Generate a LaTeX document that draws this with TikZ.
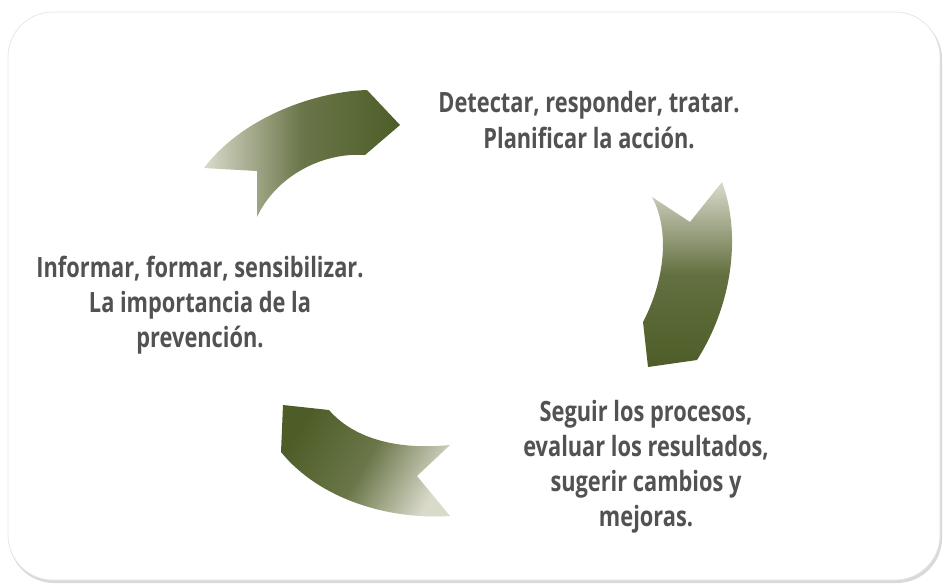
\documentclass[tikz,border=0pt]{standalone}
\usepackage{fontspec}
\setmainfont{Open Sans}[FakeStretch=0.78]
\usetikzlibrary{calc}

\definecolor{olivedark}{HTML}{4E5D28}
\definecolor{olivelight}{HTML}{DADACB}
\definecolor{textgray}{HTML}{525252}

\begin{document}
\begin{tikzpicture}[x=0.02cm, y=-0.02cm,
    steptext/.style={align=center, text=textgray, inner sep=0pt,
        font=\bfseries\fontsize{15.9}{20}\selectfont}]
    % Fix the page size
    \useasboundingbox (0,0) rectangle (945,585);

    % Card with its shadow
    \fill[gray!30, rounded corners=0.9cm] (9,14) rectangle (942,583);
    \draw[gray!20, fill=white, rounded corners=0.9cm] (8,12) rectangle (940,580);

    % Upper left arrow (light tail, dark head)
    \shade[left color=olivelight, right color=olivedark, middle color=olivedark!80!olivelight]
        (204,168) .. controls (240,120) and (310,92) .. (367,90)
        -- (400,125) -- (365,155)
        .. controls (320,152) and (275,178) .. (257,217)
        -- (257,171) -- cycle;

    % Right arrow
    \shade[top color=olivelight, bottom color=olivedark, middle color=olivedark!85!olivelight]
        (722,182) .. controls (740,230) and (735,300) .. (697,360)
        -- (648,367) -- (643,322)
        .. controls (665,280) and (670,230) .. (652,197)
        -- (690,222) -- cycle;

    % Lower left arrow
    \shade[top color=olivedark, bottom color=olivelight, middle color=olivedark!80!olivelight,
        shading angle=60]
        (283,405) -- (329,410)
        .. controls (355,440) and (400,450) .. (450,445)
        -- (417,476) -- (450,516)
        .. controls (390,520) and (320,500) .. (281,452) -- cycle;

    % Step texts
    \node[steptext] (detectar) at (589,120) {Detectar, responder, tratar.\\Planificar la acción.};
    \node[steptext] (informar) at (200,305) {Informar, formar, sensibilizar.\\La importancia de la\\prevención.};
    \node[steptext] (seguir) at (646,467) {Seguir los procesos,\\evaluar los resultados,\\sugerir cambios y\\mejoras.};
\end{tikzpicture}
\end{document}
